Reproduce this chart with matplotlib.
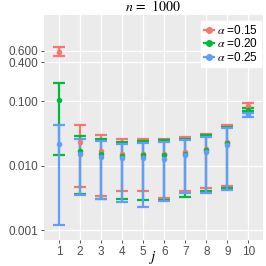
"""Error-bar chart of three alpha settings over j = 1..10, ggplot look."""
import numpy as np
import matplotlib
matplotlib.use("Agg")
import matplotlib.pyplot as plt
from matplotlib.lines import Line2D

plt.rcParams.update({"font.family": "Liberation Sans", "mathtext.fontset": "stix"})

j = np.arange(1, 11)
alphas = ["0.15", "0.20", "0.25"]
colors = ["#F8766D", "#00BA38", "#619CFF"]

# point estimate, lower and upper bound, per alpha
mid_015 = [0.585, 0.023, 0.0168, 0.0152, 0.0154, 0.0154, 0.0163, 0.0184, 0.0236, 0.084]
lo_015 = [0.507, 0.0047, 0.0034, 0.0040, 0.0040, 0.0032, 0.0041, 0.0045, 0.0048, 0.077]
hi_015 = [0.68, 0.042, 0.0296, 0.0256, 0.0256, 0.0263, 0.0278, 0.0314, 0.0422, 0.092]

mid_020 = [0.1025, 0.0168, 0.0152, 0.0140, 0.0144, 0.0145, 0.0154, 0.0173, 0.0225, 0.074]
lo_020 = [0.0145, 0.0036, 0.0031, 0.0031, 0.0029, 0.0029, 0.0033, 0.0041, 0.0045, 0.069]
hi_020 = [0.192, 0.0292, 0.0256, 0.0233, 0.0241, 0.0248, 0.0263, 0.0296, 0.0403, 0.079]

mid_025 = [0.022, 0.0152, 0.0137, 0.0132, 0.0132, 0.0129, 0.0145, 0.0162, 0.0212, 0.062]
lo_025 = [0.0012, 0.0035, 0.0030, 0.0027, 0.0023, 0.0028, 0.0038, 0.0038, 0.0042, 0.057]
hi_025 = [0.042, 0.026, 0.024, 0.022, 0.0225, 0.0233, 0.0248, 0.0278, 0.0383, 0.066]

series = [(mid_015, lo_015, hi_015), (mid_020, lo_020, hi_020), (mid_025, lo_025, hi_025)]

fig = plt.figure(figsize=(2.66, 2.66), dpi=100)
ax = fig.add_axes([0.1654, 0.0966, 0.8236, 0.847])
ax.set_facecolor("#EBEBEB")
for s in ax.spines.values():
    s.set_visible(False)

# error bars first, then points on top (ggplot layer order)
for (mid, lo, hi), c in zip(series, colors):
    mid, lo, hi = map(np.asarray, (mid, lo, hi))
    ax.errorbar(j, mid, yerr=[mid - lo, hi - mid], fmt="none", ecolor=c,
                elinewidth=1.6, capsize=4, capthick=1.6, zorder=3)
for (mid, lo, hi), c in zip(series, colors):
    ax.plot(j, mid, "o", color=c, ms=4, mec="none", zorder=4)

ax.set_yscale("log")
ax.set_ylim(0.0007, 2.15)
ax.set_xlim(0.28, 10.7)
ax.set_xticks(j)
ax.set_yticks([0.001, 0.01, 0.1, 0.4, 0.6])
ax.set_yticklabels(["0.001", "0.010", "0.100", "0.400", "0.600"])
ax.yaxis.set_minor_locator(matplotlib.ticker.NullLocator())
ax.grid(True, color="white", lw=0.9)
ax.set_axisbelow(True)
ax.tick_params(colors="#333333", labelcolor="#4D4D4D", labelsize=8.5, length=2.5, width=0.6, pad=1.5)

ax.set_title("$n$ =  1000", fontsize=10, family="STIXGeneral", pad=3)
ax.set_xlabel("$j$", fontsize=11)
ax.xaxis.set_label_coords(0.5, -0.04)

handles = [Line2D([0], [0], color=c, lw=1.6, marker="o", ms=4) for c in colors]
labels = [f"$\\alpha$ =" + a for a in alphas]
leg = ax.legend(handles, labels, loc="upper right", fontsize=8.5, frameon=True,
                fancybox=False, framealpha=1, edgecolor="white", handlelength=0.9,
                handletextpad=0.2, labelspacing=0.05, borderpad=0.25,
                bbox_to_anchor=(1.0, 0.985), borderaxespad=0.2)

fig.savefig("out.png", dpi=100)
